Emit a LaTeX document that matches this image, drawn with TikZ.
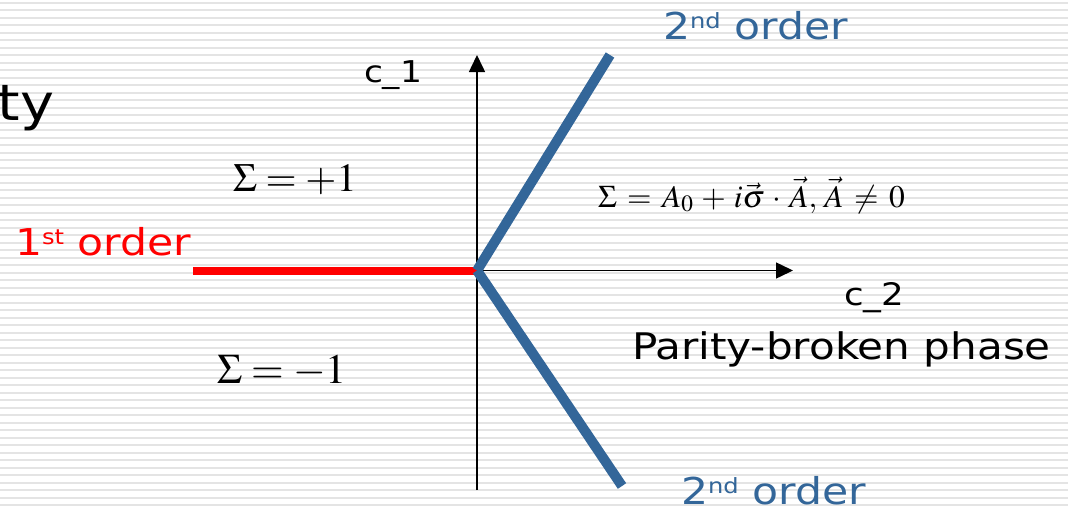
\documentclass[tikz,border=0pt]{standalone}
\usepackage{mathptmx}
\usepackage[no-math]{fontspec}
\setmainfont{DejaVu Sans}[FakeStretch=1.15]
\usetikzlibrary{arrows.meta}
\definecolor{pblue}{HTML}{336699}
\definecolor{stripecol}{HTML}{E4E4E4}
\tikzset{
  stripe/.style={draw=stripecol, line width=1.7pt},
  axis/.style={draw=black, line width=1.5pt, -{Triangle[length=17pt,width=16pt]}},
  redline/.style={draw=red, line width=8pt},
  blueline/.style={draw=pblue, line width=10pt},
  lbl/.style={anchor=base west, inner sep=0pt, outer sep=0pt},
}
\newcommand{\fs}[1]{\fontsize{#1}{#1}\selectfont}
\begin{document}
\begin{tikzpicture}[x=1pt,y=-1pt]
\useasboundingbox (0,0) rectangle (1068,509);
\fill[white] (0,0) rectangle (1068,509);
\foreach \k in {0,...,67} \draw[stripe] (0,2.7+7.5*\k) -- (1068,2.7+7.5*\k);
% coordinates
\coordinate (O) at (477,270.5);
\coordinate (Ytip) at (477,55);
\coordinate (Ybot) at (477,490);
\coordinate (Xtip) at (793,270.5);
\coordinate (Xleft) at (193,270.5);
\coordinate (B1) at (610,55);
\coordinate (B2) at (622,486);
% axes
\draw[axis] (Ybot) -- (Ytip);
\draw[axis] (Xleft) -- (Xtip);
% phase lines
\draw[redline] (Xleft) -- (O);
\draw[blueline] (O) -- (B1);
\draw[blueline] (O) -- (B2);
% labels
\node[lbl] (ty) at (-2,120) {\fs{50}ty};
\node[lbl] (c1) at (364,82) {\fs{30}c\_1};
\node[lbl] (c2) at (844,305) {\fs{31}c\_2};
\node[lbl] (parity) at (632,359) {\fs{36.6}Parity-broken phase};
\node[lbl, text=red] (first) at (15,255) {\fs{37}1\raisebox{11pt}{\fs{21}st} order};
\node[lbl, text=pblue] (secondtop) at (663,39) {\fs{37}2\raisebox{11pt}{\fs{21}nd} order};
\node[lbl, text=pblue] (secondbot) at (681,504) {\fs{37}2\raisebox{11pt}{\fs{21}nd} order};
\node[lbl] (splus) at (233,191) {\fs{40}$\Sigma = +1$};
\node[lbl] (sminus) at (217,383) {\fs{42}$\Sigma = -1$};
\node[lbl] (eq) at (598,207) {\fs{31.5}$\Sigma \,=\, A_0 \,+\, i\vec{\sigma} \,\cdot\, \vec{A},\,\vec{A}\,\neq\, 0$};
\end{tikzpicture}
\end{document}
